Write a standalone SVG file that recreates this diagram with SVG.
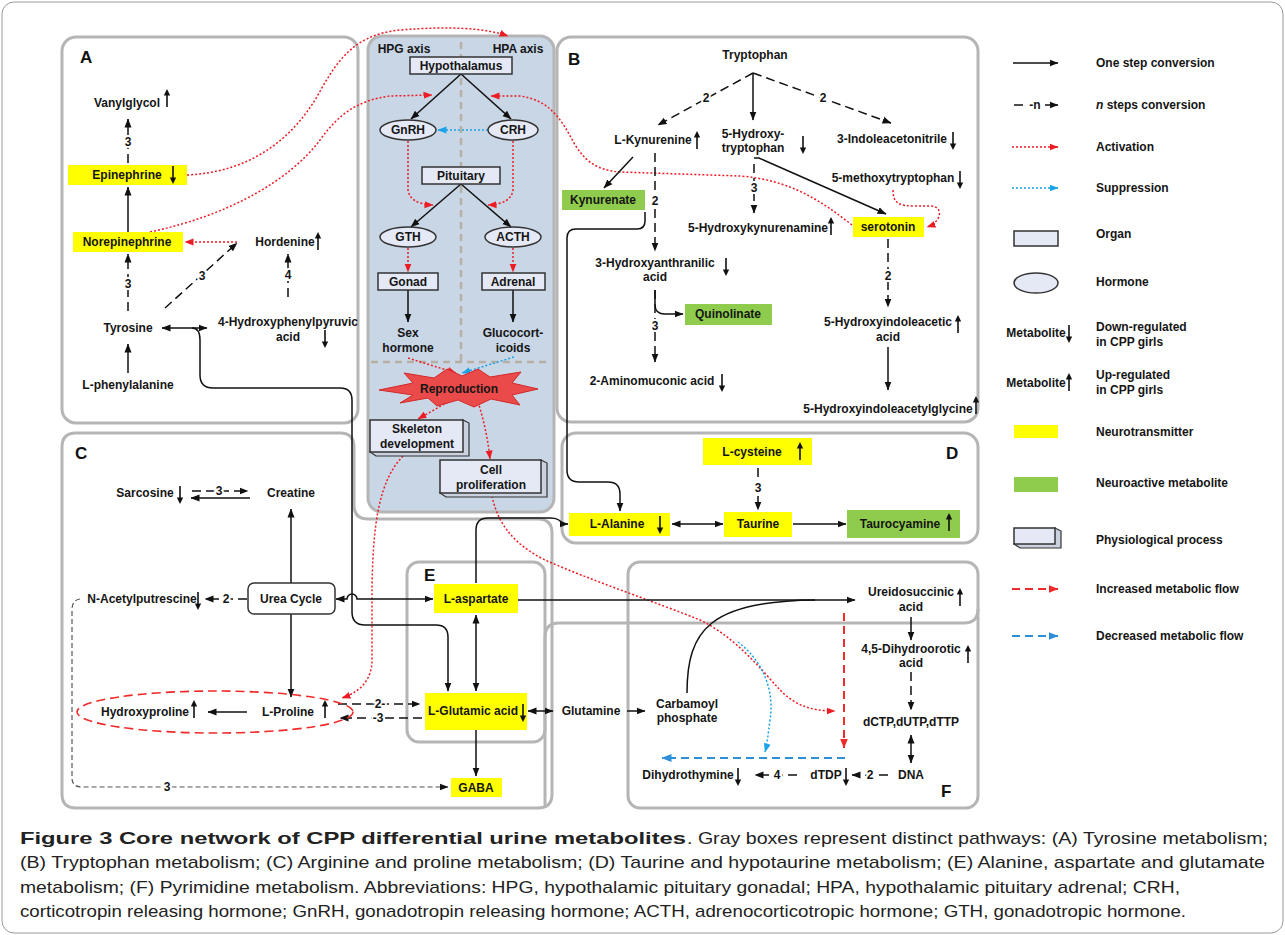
<svg xmlns="http://www.w3.org/2000/svg" width="1285" height="935" viewBox="0 0 1285 935">
<style>
.t{font-family:"Liberation Sans",Arial,sans-serif;font-weight:bold;font-size:12px;fill:#151515;text-anchor:middle}
.ts{font-family:"Liberation Sans",Arial,sans-serif;font-weight:bold;font-size:12px;fill:#151515}
.pl{font-family:"Liberation Sans",Arial,sans-serif;font-weight:bold;font-size:17px;fill:#111}
.nl{font-family:"Liberation Sans",Arial,sans-serif;font-weight:bold;font-size:12px;fill:#151515;text-anchor:middle;stroke:#fff;stroke-width:4px;paint-order:stroke}
.cap{font-family:"Liberation Sans",Arial,sans-serif;font-size:17px;fill:#222}
.pan{fill:none;stroke:#b5b5b5;stroke-width:3}
.ln{fill:none;stroke:#111;stroke-width:1.5}
.ds{stroke-dasharray:9 5}
.act{fill:none;stroke:#ec1c24;stroke-width:1.5;stroke-dasharray:2 2}
.sup{fill:none;stroke:#1aa3e8;stroke-width:1.5;stroke-dasharray:2 2}
.inc{fill:none;stroke:#ee2a2a;stroke-width:2;stroke-dasharray:8 5}
.dec{fill:none;stroke:#2d8fd8;stroke-width:2;stroke-dasharray:8 5}
.org{fill:#e4e9f5;stroke:#333;stroke-width:1.5}
.yel{fill:#ffff00}
.grn{fill:#8fcc4e}
.side{fill:#cbd2df;stroke:#333;stroke-width:1.2}
</style>
<defs>
<marker id="a" markerWidth="9" markerHeight="8" refX="8.5" refY="4" orient="auto-start-reverse" markerUnits="userSpaceOnUse"><path d="M0,0.5 L9,4 L0,7.5 Z" fill="#111"/></marker>
<marker id="ar" markerWidth="9" markerHeight="8" refX="8.5" refY="4" orient="auto" markerUnits="userSpaceOnUse"><path d="M0,0.5 L9,4 L0,7.5 Z" fill="#ec1c24"/></marker>
<marker id="ab" markerWidth="9" markerHeight="8" refX="8.5" refY="4" orient="auto" markerUnits="userSpaceOnUse"><path d="M0,0.5 L9,4 L0,7.5 Z" fill="#1aa3e8"/></marker>
<marker id="ad" markerWidth="10" markerHeight="9" refX="9.5" refY="4.5" orient="auto" markerUnits="userSpaceOnUse"><path d="M0,0.5 L10,4.5 L0,8.5 Z" fill="#2d8fd8"/></marker>
<marker id="ai" markerWidth="10" markerHeight="9" refX="9.5" refY="4.5" orient="auto" markerUnits="userSpaceOnUse"><path d="M0,0.5 L10,4.5 L0,8.5 Z" fill="#ee2a2a"/></marker>
<g id="up"><line x1="0" y1="9" x2="0" y2="-3" stroke="#111" stroke-width="1.6"/><path d="M-3.2,-2.5 L0,-9 L3.2,-2.5 Z" fill="#111"/></g>
<g id="dn"><line x1="0" y1="-9" x2="0" y2="3" stroke="#111" stroke-width="1.6"/><path d="M-3.2,2.5 L0,9 L3.2,2.5 Z" fill="#111"/></g>
</defs>

<rect x="2" y="2" width="1281" height="931" rx="12" fill="#fff" stroke="#9a9a9a" stroke-width="1"/>

<!-- panels -->
<g id="panels">
<rect class="pan" x="62" y="37" width="296" height="386" rx="14"/>
<rect x="368" y="36" width="186" height="476" rx="14" fill="#c8d6e6" stroke="#b5b5b5" stroke-width="3"/>
<rect class="pan" x="557" y="37" width="421" height="385" rx="14"/>
<path class="pan" d="M76,433 L340,433 Q354,433 354,447 L354,505 Q354,519 368,519 L538,519 Q552,519 552,533 L552,794 Q552,808 538,808 L76,808 Q62,808 62,794 L62,447 Q62,433 76,433 Z"/>
<rect class="pan" x="562" y="433" width="416" height="110" rx="14"/>
<rect class="pan" x="407" y="562" width="138" height="180" rx="12"/>
<rect class="pan" x="628" y="562" width="350" height="246" rx="12"/>
<path class="pan" d="M545,808 L545,637 Q545,623 559,623 L964,623 Q978,623 978,609"/>
<line x1="461" y1="42" x2="461" y2="362" stroke="#b7aea4" stroke-width="2.5" stroke-dasharray="7 5"/>
<line x1="371" y1="362" x2="551" y2="362" stroke="#b7aea4" stroke-width="2.5" stroke-dasharray="7 5"/>
<text class="pl" x="80" y="63">A</text>
<text class="pl" x="568" y="65">B</text>
<text class="pl" x="75" y="459">C</text>
<text class="pl" x="946" y="459">D</text>
<text class="pl" x="424" y="581">E</text>
<text class="pl" x="941" y="797">F</text>
<text class="t" x="404" y="53">HPG axis</text>
<text class="t" x="518" y="53">HPA axis</text>
</g>

<!-- connectors -->
<g id="connectors">
<!-- A -->
<line class="ln" x1="128" y1="373" x2="128" y2="344" marker-end="url(#a)"/>
<line class="ln" x1="162" y1="328" x2="207" y2="328" marker-start="url(#a)" marker-end="url(#a)"/>
<line class="ln ds" x1="128" y1="311" x2="128" y2="254" marker-end="url(#a)"/>
<text class="nl" x="128" y="288">3</text>
<line class="ln" x1="128" y1="232" x2="128" y2="187" marker-end="url(#a)"/>
<line class="ln ds" x1="128" y1="163" x2="128" y2="119" marker-end="url(#a)"/>
<text class="nl" x="128" y="146">3</text>
<line class="ln ds" x1="165" y1="308" x2="237" y2="243" marker-end="url(#a)"/>
<text class="nl" x="202" y="280">3</text>
<line class="ln ds" x1="288" y1="297" x2="288" y2="254" marker-end="url(#a)"/>
<text class="nl" x="288" y="279">4</text>
<line class="act" x1="237" y1="242" x2="185" y2="242" marker-end="url(#ar)"/>
<path class="ln" d="M192,328 Q200,328 200,340 L200,375 Q200,388 213,388 L340,388 Q352,388 352,400 L352,612 Q352,625 365,625 L436,625 Q448,625 448,637 L448,691" marker-end="url(#a)"/>
<!-- activation curves -->
<path class="act" d="M187,175 C250,172 290,140 315,100 C335,65 350,35 400,30 C450,26 485,28 508,36" marker-end="url(#ar)"/>
<path class="act" d="M150,232 C230,215 290,180 320,140 C340,112 360,100 390,96 L432,95" marker-end="url(#ar)"/>
<path class="act" d="M852,225 C820,200 790,180 740,176 L620,172 C595,170 585,160 575,145 C562,120 550,100 520,96 L491,96" marker-end="url(#ar)"/>
<!-- center -->
<line class="ln" x1="461" y1="74" x2="411" y2="119" marker-end="url(#a)"/>
<line class="ln" x1="461" y1="74" x2="511" y2="119" marker-end="url(#a)"/>
<line class="sup" x1="488" y1="130" x2="438" y2="130" marker-end="url(#ab)"/>
<path class="act" d="M408,141 L408,190 Q410,204 433,205" marker-end="url(#ar)"/>
<path class="act" d="M513,141 L513,190 Q511,204 488,205" marker-end="url(#ar)"/>
<line class="ln" x1="461" y1="184" x2="411" y2="227" marker-end="url(#a)"/>
<line class="ln" x1="461" y1="184" x2="511" y2="227" marker-end="url(#a)"/>
<line class="act" x1="408" y1="248" x2="408" y2="272" marker-end="url(#ar)"/>
<line class="act" x1="513" y1="248" x2="513" y2="272" marker-end="url(#ar)"/>
<line class="ln" x1="408" y1="290" x2="408" y2="322" marker-end="url(#a)"/>
<line class="ln" x1="513" y1="290" x2="513" y2="322" marker-end="url(#a)"/>
<line class="act" x1="408" y1="358" x2="456" y2="373" marker-end="url(#ar)"/>
<line class="sup" x1="514" y1="357" x2="462" y2="373" marker-end="url(#ab)"/>
<line class="act" x1="448" y1="402" x2="418" y2="419" marker-end="url(#ar)"/>
<path class="act" d="M478,402 Q487,430 490,459" marker-end="url(#ar)"/>
<path class="act" d="M403,456 C380,480 372,520 372,600 L372,660 C372,680 360,692 342,698" marker-end="url(#ar)"/>
<path class="act" d="M492,496 C498,525 515,545 545,560 C590,580 650,600 700,620 C735,637 760,668 780,690 C795,705 810,711 835,711" marker-end="url(#ar)"/>
<path class="sup" d="M738,642 C762,660 775,690 770,720 C768,735 767,745 765,752" marker-end="url(#ab)"/>
<!-- B -->
<line class="ln ds" x1="753" y1="73" x2="658" y2="125" marker-end="url(#a)"/>
<text class="nl" x="706" y="102">2</text>
<line class="ln" x1="753" y1="73" x2="753" y2="120" marker-end="url(#a)"/>
<line class="ln ds" x1="753" y1="73" x2="891" y2="123" marker-end="url(#a)"/>
<text class="nl" x="823" y="102">2</text>
<line class="ln" x1="633" y1="157" x2="604" y2="188" marker-end="url(#a)"/>
<line class="ln ds" x1="655" y1="153" x2="655" y2="251" marker-end="url(#a)"/>
<text class="nl" x="655" y="205">2</text>
<path class="ln" d="M754,158 L759,158 L886,214" marker-end="url(#a)"/>
<line class="ln ds" x1="754" y1="164" x2="754" y2="213" marker-end="url(#a)"/>
<text class="nl" x="754" y="192">3</text>
<path class="act" d="M893,190 C893,204 900,206 915,206 L930,206 C944,206 942,222 927,227" marker-end="url(#ar)"/>
<path class="ln" d="M655,290 L655,305 Q655,314 665,314 L683,314" marker-end="url(#a)"/>
<line class="ln ds" x1="655" y1="290" x2="655" y2="362" marker-end="url(#a)"/>
<text class="nl" x="655" y="330">3</text>
<line class="ln ds" x1="888" y1="239" x2="888" y2="307" marker-end="url(#a)"/>
<text class="nl" x="888" y="280">2</text>
<line class="ln" x1="888" y1="347" x2="888" y2="390" marker-end="url(#a)"/>
<path class="ln" d="M645,212 L645,221 Q645,229 637,229 L576,229 Q567,229 567,238 L567,470 Q567,482 579,482 L608,482 Q620,482 620,494 L620,511" marker-end="url(#a)"/>
<!-- D -->
<line class="ln ds" x1="758" y1="468" x2="758" y2="510" marker-end="url(#a)"/>
<text class="nl" x="758" y="492">3</text>
<line class="ln" x1="672" y1="524" x2="723" y2="524" marker-start="url(#a)" marker-end="url(#a)"/>
<line class="ln" x1="793" y1="524" x2="846" y2="524" marker-end="url(#a)"/>
<path class="ln" d="M476,583 L476,530 Q476,518 488,518 L550,518 Q560,518 562,524 L568,524" marker-end="url(#a)"/>
<!-- C -->
<line class="ln ds" x1="192" y1="491" x2="248" y2="491" marker-end="url(#a)"/>
<text class="nl" x="219" y="495">3</text>
<line class="ln" x1="250" y1="498" x2="191" y2="498" marker-end="url(#a)"/>
<line class="ln" x1="291" y1="583" x2="291" y2="509" marker-end="url(#a)"/>
<line class="ln" x1="291" y1="614" x2="291" y2="697" marker-end="url(#a)"/>
<line class="ln ds" x1="247" y1="599" x2="205" y2="599" marker-end="url(#a)"/>
<text class="nl" x="226" y="603">2</text>
<path d="M80,599 Q72,600 72,610 L72,778 Q72,787 82,787 L448,787" fill="none" stroke="#555" stroke-width="1.2" stroke-dasharray="5 3" marker-end="url(#a)"/>
<text class="nl" x="167" y="791">3</text>
<path class="ln" d="M336,599 L347,599 A5,5 0 0 1 357,599 L433,599" marker-start="url(#a)" marker-end="url(#a)"/>
<line class="ln" x1="518" y1="600" x2="855" y2="600" marker-end="url(#a)"/>
<path class="ln" d="M687,693 C687,630 710,601 815,600"/>
<line class="ln" x1="476" y1="615" x2="476" y2="691" marker-start="url(#a)" marker-end="url(#a)"/>
<line class="ln" x1="528" y1="711" x2="553" y2="711" marker-start="url(#a)" marker-end="url(#a)"/>
<line class="ln" x1="476" y1="730" x2="476" y2="776" marker-end="url(#a)"/>
<line class="ln ds" x1="338" y1="704" x2="420" y2="704" marker-end="url(#a)"/>
<text class="nl" x="380" y="708">2-</text>
<line class="ln ds" x1="422" y1="718" x2="340" y2="718" marker-end="url(#a)"/>
<text class="nl" x="378" y="722">-3</text>
<line class="ln" x1="247" y1="712" x2="208" y2="712" marker-end="url(#a)"/>
<ellipse cx="215" cy="712" rx="138" ry="21" fill="none" stroke="#ee2a2a" stroke-width="1.6" stroke-dasharray="9 5"/>
<!-- F -->
<line class="ln" x1="911" y1="617" x2="911" y2="640" marker-end="url(#a)"/>
<line class="ln ds" x1="911" y1="672" x2="911" y2="710" marker-end="url(#a)"/>
<line class="ln" x1="911" y1="735" x2="911" y2="763" marker-start="url(#a)" marker-end="url(#a)"/>
<line class="ln ds" x1="888" y1="775" x2="852" y2="775" marker-end="url(#a)"/>
<text class="nl" x="870" y="779">2</text>
<line class="ln ds" x1="797" y1="775" x2="755" y2="775" marker-end="url(#a)"/>
<text class="nl" x="777" y="779">4</text>
<line class="ln" x1="627" y1="711" x2="645" y2="711" marker-end="url(#a)"/>
<line class="inc" x1="844" y1="613" x2="844" y2="748" marker-end="url(#ai)"/>
<line class="dec" x1="845" y1="758" x2="662" y2="758" marker-end="url(#ad)"/>
</g>

<!-- Panel A nodes -->
<g id="vanylglycol"><text class="t" x="127" y="107">Vanylglycol</text><use href="#up" x="167" y="98"/></g>
<g id="epinephrine"><rect class="yel" x="68" y="165" width="119" height="20"/><text class="t" x="127" y="179">Epinephrine</text><use href="#dn" x="173" y="175"/></g>
<g id="norepinephrine"><rect class="yel" x="73" y="232" width="110" height="20"/><text class="t" x="127" y="246">Norepinephrine</text></g>
<g id="hordenine"><text class="t" x="285" y="246">Hordenine</text><use href="#up" x="318" y="241"/></g>
<g id="tyrosine"><text class="t" x="128" y="332">Tyrosine</text></g>
<g id="hpp"><text class="t" x="288" y="326">4-Hydroxyphenylpyruvic</text><text class="t" x="288" y="341">acid</text><use href="#dn" x="325" y="339"/></g>
<g id="phenylalanine"><text class="t" x="128" y="389">L-phenylalanine</text></g>

<!-- Center nodes -->
<g id="hypothalamus"><rect class="org" x="410" y="57" width="102" height="17"/><text class="t" x="461" y="70">Hypothalamus</text></g>
<g id="gnrh"><ellipse class="org" cx="408" cy="130" rx="28" ry="10"/><text class="t" x="408" y="134">GnRH</text></g>
<g id="crh"><ellipse class="org" cx="513" cy="130" rx="25" ry="10"/><text class="t" x="513" y="134">CRH</text></g>
<g id="pituitary"><rect class="org" x="422" y="167" width="78" height="17"/><text class="t" x="461" y="180">Pituitary</text></g>
<g id="gth"><ellipse class="org" cx="408" cy="237" rx="28" ry="10"/><text class="t" x="408" y="241">GTH</text></g>
<g id="acth"><ellipse class="org" cx="513" cy="237" rx="28" ry="10"/><text class="t" x="513" y="241">ACTH</text></g>
<g id="gonad"><rect class="org" x="378" y="273" width="60" height="17"/><text class="t" x="408" y="286">Gonad</text></g>
<g id="adrenal"><rect class="org" x="482" y="273" width="63" height="17"/><text class="t" x="513" y="286">Adrenal</text></g>
<g id="sexhormone"><text class="t" x="408" y="337">Sex</text><text class="t" x="408" y="352">hormone</text></g>
<g id="glucocorticoids"><text class="t" x="513" y="337">Glucocort-</text><text class="t" x="513" y="352">icoids</text></g>
<g id="reproduction"><polygon points="379,390 413,383 404,373 434,378 447,369 462,376 478,369 490,377 521,372 512,383 538,389 512,395 520,405 491,399 474,407 458,400 437,406 428,398 400,403 413,395" fill="#ea4a4a" stroke="#d42828" stroke-width="1"/><text class="t" x="459" y="393">Reproduction</text></g>
<g id="skeleton"><path class="side" d="M463,420 L469,423 L469,456 L376,456 L370,452 Z"/><rect class="org" x="370" y="420" width="93" height="32"/><text class="t" x="417" y="433">Skeleton</text><text class="t" x="417" y="448">development</text></g>
<g id="cellprolif"><path class="side" d="M541,460 L547,463 L547,497 L446,497 L440,493 Z"/><rect class="org" x="440" y="460" width="101" height="33"/><text class="t" x="491" y="474">Cell</text><text class="t" x="491" y="489">proliferation</text></g>

<!-- Panel B nodes -->
<g id="tryptophan"><text class="t" x="755" y="59">Tryptophan</text></g>
<g id="kynurenine"><text class="t" x="653" y="144">L-Kynurenine</text><use href="#up" x="697" y="140"/></g>
<g id="htp"><text class="t" x="753" y="138">5-Hydroxy-</text><text class="t" x="753" y="152">tryptophan</text><use href="#dn" x="803" y="145"/></g>
<g id="indoleacetonitrile"><text class="t" x="892" y="143">3-Indoleacetonitrile</text><use href="#dn" x="953" y="141"/></g>
<g id="methoxytryptophan"><text class="t" x="893" y="182">5-methoxytryptophan</text><use href="#dn" x="960" y="180"/></g>
<g id="kynurenate"><rect class="grn" x="562" y="190" width="83" height="20"/><text class="t" x="603" y="204">Kynurenate</text></g>
<g id="hkynurenamine"><text class="t" x="758" y="232">5-Hydroxykynurenamine</text><use href="#up" x="831" y="226"/></g>
<g id="serotonin"><rect class="yel" x="853" y="217" width="71" height="20"/><text class="t" x="888" y="231">serotonin</text></g>
<g id="haa"><text class="t" x="655" y="267">3-Hydroxyanthranilic</text><text class="t" x="655" y="281">acid</text><use href="#dn" x="726" y="267"/></g>
<g id="quinolinate"><rect class="grn" x="685" y="304" width="87" height="21"/><text class="t" x="728" y="318">Quinolinate</text></g>
<g id="aminomuconic"><text class="t" x="652" y="385">2-Aminomuconic acid</text><use href="#dn" x="722" y="383"/></g>
<g id="hiaa"><text class="t" x="888" y="326">5-Hydroxyindoleacetic</text><text class="t" x="888" y="341">acid</text><use href="#up" x="958" y="324"/></g>
<g id="hiag"><text class="t" x="888" y="413">5-Hydroxyindoleacetylglycine</text><use href="#up" x="976" y="405"/></g>

<!-- Panel D nodes -->
<g id="cysteine"><rect class="yel" x="703" y="438" width="109" height="27"/><text class="t" x="752" y="456">L-cysteine</text><use href="#up" x="800" y="451"/></g>
<g id="alanine"><rect class="yel" x="569" y="513" width="101" height="23"/><text class="t" x="617" y="528">L-Alanine</text><use href="#dn" x="660" y="525"/></g>
<g id="taurine"><rect class="yel" x="724" y="512" width="68" height="25"/><text class="t" x="758" y="528">Taurine</text></g>
<g id="taurocyamine"><rect class="grn" x="847" y="510" width="113" height="28"/><text class="t" x="900" y="528">Taurocyamine</text><use href="#up" x="949" y="522"/></g>

<!-- Panel C / E nodes -->
<g id="sarcosine"><text class="t" x="145" y="497">Sarcosine</text><use href="#dn" x="180" y="495"/></g>
<g id="creatine"><text class="t" x="291" y="497">Creatine</text></g>
<g id="ureacycle"><rect x="248" y="583" width="87" height="31" rx="6" fill="#fff" stroke="#333" stroke-width="1.5"/><text class="t" x="291" y="603">Urea Cycle</text></g>
<g id="acetylputrescine"><text class="t" x="142" y="603">N-Acetylputrescine</text><use href="#dn" x="198" y="601"/></g>
<g id="hydroxyproline"><text class="t" x="145" y="716">Hydroxyproline</text><use href="#up" x="194" y="709"/></g>
<g id="proline"><text class="t" x="288" y="716">L-Proline</text><use href="#up" x="325" y="709"/></g>
<g id="aspartate"><rect class="yel" x="434" y="584" width="84" height="29"/><text class="t" x="476" y="603">L-aspartate</text></g>
<g id="glutamic"><rect class="yel" x="425" y="693" width="102" height="37"/><text class="t" x="473" y="715">L-Glutamic acid</text><use href="#dn" x="523" y="713"/></g>
<g id="gaba"><rect class="yel" x="451" y="778" width="51" height="19"/><text class="t" x="476" y="792">GABA</text></g>

<!-- Panel F nodes -->
<g id="glutamine"><text class="t" x="591" y="715">Glutamine</text></g>
<g id="carbamoyl"><text class="t" x="687" y="708">Carbamoyl</text><text class="t" x="687" y="722">phosphate</text></g>
<g id="ureidosuccinic"><text class="t" x="911" y="596">Ureidosuccinic</text><text class="t" x="911" y="611">acid</text><use href="#up" x="960" y="597"/></g>
<g id="dihydroorotic"><text class="t" x="911" y="653">4,5-Dihydroorotic</text><text class="t" x="911" y="667">acid</text><use href="#up" x="968" y="654"/></g>
<g id="dntp"><text class="t" x="911" y="726">dCTP,dUTP,dTTP</text></g>
<g id="dna"><text class="t" x="911" y="779">DNA</text></g>
<g id="dtdp"><text class="t" x="826" y="779">dTDP</text><use href="#dn" x="846" y="777"/></g>
<g id="dihydrothymine"><text class="t" x="688" y="779">Dihydrothymine</text><use href="#dn" x="738" y="777"/></g>

<!-- Legend -->
<g id="legend">
<line class="ln" x1="1013" y1="63" x2="1058" y2="63" marker-end="url(#a)"/>
<text class="ts" x="1096" y="67">One step conversion</text>
<line class="ln" x1="1014" y1="105" x2="1023" y2="105"/>
<text class="t" x="1035" y="109">-n</text>
<line class="ln" x1="1045" y1="105" x2="1058" y2="105" marker-end="url(#a)"/>
<text class="ts" x="1096" y="109"><tspan font-style="italic">n</tspan> steps conversion</text>
<line class="act" x1="1012" y1="147" x2="1058" y2="147" marker-end="url(#ar)"/>
<text class="ts" x="1096" y="151">Activation</text>
<line class="sup" x1="1012" y1="188" x2="1058" y2="188" marker-end="url(#ab)"/>
<text class="ts" x="1096" y="192">Suppression</text>
<rect class="org" x="1014" y="231" width="44" height="15"/>
<text class="ts" x="1096" y="238">Organ</text>
<ellipse class="org" cx="1036" cy="283" rx="22" ry="10"/>
<text class="ts" x="1096" y="286">Hormone</text>
<text class="t" x="1036" y="337">Metabolite</text><use href="#dn" x="1069" y="334"/>
<text class="ts" x="1096" y="331">Down-regulated</text>
<text class="ts" x="1096" y="346">in CPP girls</text>
<text class="t" x="1036" y="387">Metabolite</text><use href="#up" x="1069" y="382"/>
<text class="ts" x="1096" y="379">Up-regulated</text>
<text class="ts" x="1096" y="394">in CPP girls</text>
<rect class="yel" x="1014" y="425" width="44" height="13"/>
<text class="ts" x="1096" y="436">Neurotransmitter</text>
<rect class="grn" x="1014" y="477" width="44" height="15"/>
<text class="ts" x="1096" y="487">Neuroactive metabolite</text>
<path class="side" d="M1055,528 L1061,531 L1061,548 L1020,548 L1014,544 Z"/><rect class="org" x="1014" y="528" width="41" height="16"/>
<text class="ts" x="1096" y="544">Physiological process</text>
<line class="inc" x1="1012" y1="589" x2="1058" y2="589" marker-end="url(#ai)"/>
<text class="ts" x="1096" y="593">Increased metabolic flow</text>
<line class="dec" x1="1012" y1="636" x2="1058" y2="636" marker-end="url(#ad)"/>
<text class="ts" x="1096" y="640">Decreased metabolic flow</text>
</g>

<!-- Caption -->
<g id="caption">
<text class="cap" x="20" y="844" font-weight="bold" font-size="18" textLength="666" lengthAdjust="spacingAndGlyphs">Figure 3 Core network of CPP differential urine metabolites</text>
<text class="cap" x="687" y="844" textLength="581" lengthAdjust="spacingAndGlyphs">. Gray boxes represent distinct pathways: (A) Tyrosine metabolism;</text>
<text class="cap" x="20" y="868" textLength="1245" lengthAdjust="spacingAndGlyphs">(B) Tryptophan metabolism; (C) Arginine and proline metabolism; (D) Taurine and hypotaurine metabolism; (E) Alanine, aspartate and glutamate</text>
<text class="cap" x="20" y="893" textLength="1160" lengthAdjust="spacingAndGlyphs">metabolism; (F) Pyrimidine metabolism. Abbreviations: HPG, hypothalamic pituitary gonadal; HPA, hypothalamic pituitary adrenal; CRH,</text>
<text class="cap" x="20" y="917" textLength="1166" lengthAdjust="spacingAndGlyphs">corticotropin releasing hormone; GnRH, gonadotropin releasing hormone; ACTH, adrenocorticotropic hormone; GTH, gonadotropic hormone.</text>
</g>
</svg>
